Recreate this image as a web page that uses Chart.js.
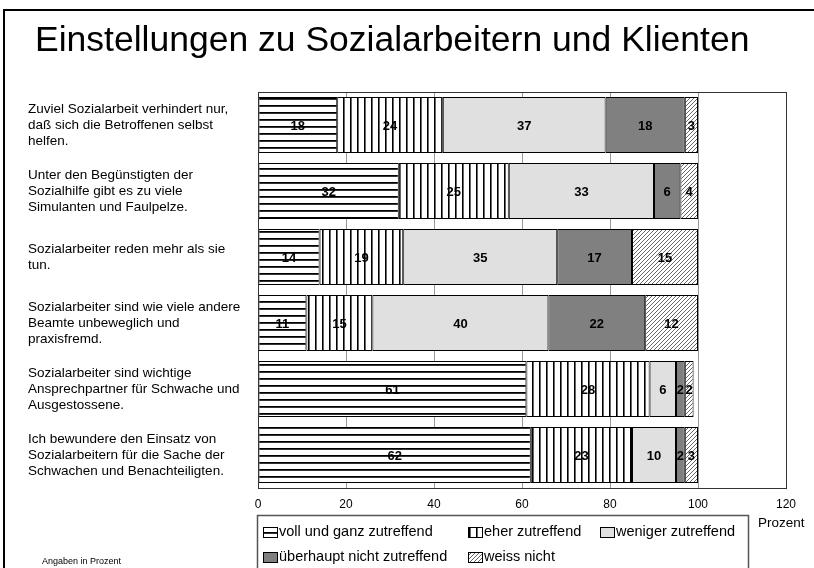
<!DOCTYPE html>
<html lang="de">
<head>
<meta charset="UTF-8">
<title>Einstellungen zu Sozialarbeitern und Klienten</title>
<script src="https://cdn.jsdelivr.net/npm/chart.js"></script>
<style>
    body { margin: 0; background: #fff; }
    canvas { display: block; }
</style>
</head>
<body>
<canvas id="chart" width="814" height="568"></canvas>
<script>
// data
const categories = [
    ['Zuviel Sozialarbeit verhindert nur,', 'daß sich die Betroffenen selbst', 'helfen.'],
    ['Unter den Begünstigten der', 'Sozialhilfe gibt es zu viele', 'Simulanten und Faulpelze.'],
    ['Sozialarbeiter reden mehr als sie', 'tun.'],
    ['Sozialarbeiter sind wie viele andere', 'Beamte unbeweglich und', 'praxisfremd.'],
    ['Sozialarbeiter sind wichtige', 'Ansprechpartner für Schwache und', 'Ausgestossene.'],
    ['Ich bewundere den Einsatz von', 'Sozialarbeitern für die Sache der', 'Schwachen und Benachteiligten.']
];
const seriesNames = ['voll und ganz zutreffend', 'eher zutreffend', 'weniger zutreffend', 'überhaupt nicht zutreffend', 'weiss nicht'];
const vollUndGanz = [18, 32, 14, 11, 61, 62];
const eher = [24, 25, 19, 15, 28, 23];
const weniger = [37, 33, 35, 40, 6, 10];
const ueberhaupt = [18, 6, 17, 22, 2, 2];
const weissNicht = [3, 4, 15, 12, 2, 3];
const xMin = 0, xMax = 120, xStep = 20;

const FONT = "'Liberation Sans', Arial, sans-serif";

// hatch fills
function makePattern(w, h, draw) {
    const c = document.createElement('canvas');
    c.width = w; c.height = h;
    const g = c.getContext('2d');
    g.fillStyle = '#fff';
    g.fillRect(0, 0, w, h);
    draw(g);
    return document.getElementById('chart').getContext('2d').createPattern(c, 'repeat');
}
const hLines = makePattern(8, 7, g => {
    g.fillStyle = '#000'; g.fillRect(0, 0, 8, 1);
    g.fillStyle = '#333'; g.fillRect(0, 1, 8, 1);
});
const vLines = makePattern(7, 8, g => {
    g.fillStyle = '#000'; g.fillRect(0, 0, 1, 8);
    g.fillStyle = '#666'; g.fillRect(1, 0, 1, 8);
});
const diag = makePattern(4, 4, g => {
    g.strokeStyle = '#666';
    g.lineWidth = 1;
    g.beginPath();
    g.moveTo(-1, 5); g.lineTo(5, -1);
    g.stroke();
});

const fills = [hLines, vLines, '#e0e0e0', '#808080', diag];
const values = [vollUndGanz, eher, weniger, ueberhaupt, weissNicht];

const datasets = seriesNames.map((name, i) => ({
    label: name,
    data: values[i],
    backgroundColor: fills[i],
    borderColor: '#000',
    borderWidth: 1,
    borderSkipped: false,
    barPercentage: 0.85,
    categoryPercentage: 1
}));

// numbers in the middle of each segment
const segmentLabels = {
    id: 'segmentLabels',
    afterDatasetsDraw(chart) {
        const ctx = chart.ctx;
        const a = chart.chartArea;
        ctx.save();
        ctx.strokeStyle = '#333';
        ctx.lineWidth = 1;
        ctx.strokeRect(Math.round(a.left) + 0.5, Math.round(a.top) + 0.5, Math.round(a.right - a.left), Math.round(a.bottom - a.top));
        ctx.font = 'bold 13px ' + FONT;
        ctx.fillStyle = '#000';
        ctx.textAlign = 'center';
        ctx.textBaseline = 'middle';
        chart.data.datasets.forEach((ds, i) => {
            chart.getDatasetMeta(i).data.forEach((bar, j) => {
                ctx.fillText(ds.data[j], (bar.x + bar.base) / 2, bar.y + 1);
            });
        });
        ctx.restore();
    }
};

// title, frame, legend box and notes
const decorations = {
    id: 'decorations',
    afterDraw(chart) {
        const ctx = chart.ctx;
        ctx.save();
        ctx.strokeStyle = '#000';
        ctx.lineWidth = 2;
        ctx.strokeRect(4, 10, 830, 600);

        ctx.fillStyle = '#000';
        ctx.font = '35.5px ' + FONT;
        ctx.textAlign = 'left';
        ctx.textBaseline = 'alphabetic';
        ctx.fillText('Einstellungen zu Sozialarbeitern und Klienten', 35, 51);

        ctx.font = '13.5px ' + FONT;
        ctx.textBaseline = 'middle';
        ctx.fillText('Prozent', 758, 523);

        ctx.font = '9px ' + FONT;
        ctx.fillText('Angaben in Prozent', 42, 562);

        // legend
        ctx.strokeStyle = '#555';
        ctx.lineWidth = 1.5;
        ctx.strokeRect(257.5, 515.5, 491, 80);
        const cols = [263, 468, 600];
        const rows = [532, 557];
        ctx.font = '14.5px ' + FONT;
        chart.data.datasets.forEach((ds, i) => {
            const x = cols[i < 3 ? i : i - 3];
            const y = rows[i < 3 ? 0 : 1];
            ctx.fillStyle = ds.backgroundColor;
            ctx.fillRect(x, y - 5, 14, 10);
            ctx.strokeStyle = '#000';
            ctx.lineWidth = 1;
            ctx.strokeRect(x + 0.5, y - 4.5, 14, 10);
            ctx.fillStyle = '#000';
            ctx.fillText(ds.label, x + 16, y);
        });
        ctx.restore();
    }
};

new Chart(document.getElementById('chart'), {
    type: 'bar',
    data: { labels: categories, datasets: datasets },
    options: {
        responsive: false,
        animation: false,
        indexAxis: 'y',
        layout: { padding: { left: 28, top: 92, right: 28, bottom: 58 } },
        scales: {
            x: {
                stacked: true,
                min: xMin,
                max: xMax,
                ticks: { stepSize: xStep, color: '#000', font: { family: FONT, size: 12 }, padding: 9 },
                grid: { color: '#999', drawTicks: false },
                border: { display: false },
                afterFit: s => { s.height = 22; }
            },
            y: {
                stacked: true,
                ticks: { crossAlign: 'far', color: '#000', font: { family: FONT, size: 13.5, lineHeight: 1.2 }, padding: 0 },
                grid: { display: false },
                border: { display: false },
                afterFit: s => { s.width = 230; }
            }
        },
        plugins: {
            legend: { display: false },
            tooltip: { enabled: false },
            title: { display: false }
        }
    },
    plugins: [segmentLabels, decorations]
});
</script>
</body>
</html>
